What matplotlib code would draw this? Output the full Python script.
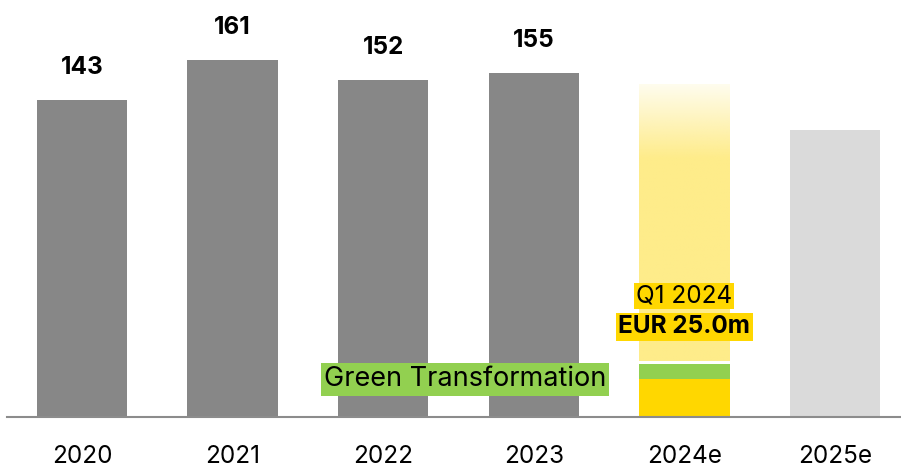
import numpy as np
import matplotlib
matplotlib.use("Agg")
import matplotlib.pyplot as plt
from matplotlib.colors import to_rgb

plt.rcParams['font.family'] = ['Inter', 'DejaVu Sans']

# data
years = ['2020', '2021', '2022', '2023', '2024e', '2025e']
actuals = [143, 161, 152, 155]
forecast_2024 = 150
forecast_2025 = 129.5
q1_core = 17          # yellow part of Q1 2024
q1_green = 7          # green transformation part of Q1 2024
q1_label = 'Q1 2024'
q1_value = 'EUR 25.0m'

GREY = '#878787'
LIGHT_GREY = '#dadada'
YELLOW = '#ffd700'
PALE_YELLOW = '#feec8a'
GREEN = '#92d050'

fig = plt.figure(figsize=(9.01, 4.67), dpi=100)
ax = fig.add_axes([7 / 901, 50 / 467, 894 / 901, 417 / 467])
ax.set_xlim(-0.498, 5.438)
ax.set_ylim(0, 188.1)

w = 0.6
x = np.arange(len(years))
fs = 17.5

# actual years
ax.bar(x[:4], actuals, width=w, color=GREY, zorder=2)
for xi, v in zip(x[:4], actuals):
    ax.annotate(str(v), (xi, v), xytext=(0, 19), textcoords='offset points',
                ha='center', va='baseline', fontsize=fs, fontweight='bold')

# 2025e
ax.bar(x[5], forecast_2025, width=w, color=LIGHT_GREY, zorder=2)

# 2024e: pale gradient bar above the Q1 part
gap = 1.4
bottom = q1_core + q1_green + gap
n = 200
ys = np.linspace(bottom, forecast_2024, n)
alpha = np.where(ys < 117, 1.0, 1.0 - 0.85 * (ys - 117) / (forecast_2024 - 117))
img = np.zeros((n, 1, 4))
img[:, 0, :3] = to_rgb(PALE_YELLOW)
img[:, 0, 3] = alpha
ax.imshow(img, extent=[x[4] - w / 2, x[4] + w / 2, bottom, forecast_2024],
          origin='lower', aspect='auto', interpolation='bilinear', zorder=1)

ax.bar(x[4], q1_core, width=w, color=YELLOW, zorder=2)
ax.bar(x[4], q1_green, bottom=q1_core, width=w, color=GREEN, zorder=2)

# labels
ax.text(x[4], 54.6, q1_label, ha='center', va='center', fontsize=fs, zorder=4,
        bbox=dict(boxstyle='square,pad=0.08', fc=YELLOW, ec='none'))
ax.text(x[4], 40.6, q1_value, ha='center', va='center', fontsize=fs,
        fontweight='bold', zorder=4,
        bbox=dict(boxstyle='square,pad=0.1', fc=YELLOW, ec='none'))
ax.text(2.543, 17.0, 'Green Transformation', ha='center', va='center',
        fontsize=19.5, zorder=4,
        bbox=dict(boxstyle='square,pad=0.12', fc=GREEN, ec='none'))

ax.set_xticks(x)
ax.set_xticklabels(years, fontsize=fs)
ax.tick_params(axis='x', length=0, pad=20.5)
ax.set_yticks([])
for s in ['top', 'right', 'left']:
    ax.spines[s].set_visible(False)
ax.spines['bottom'].set_color('#8c8c8c')
ax.spines['bottom'].set_linewidth(1.5)
ax.spines['bottom'].set_zorder(3)

fig.savefig('out.png', dpi=100)
